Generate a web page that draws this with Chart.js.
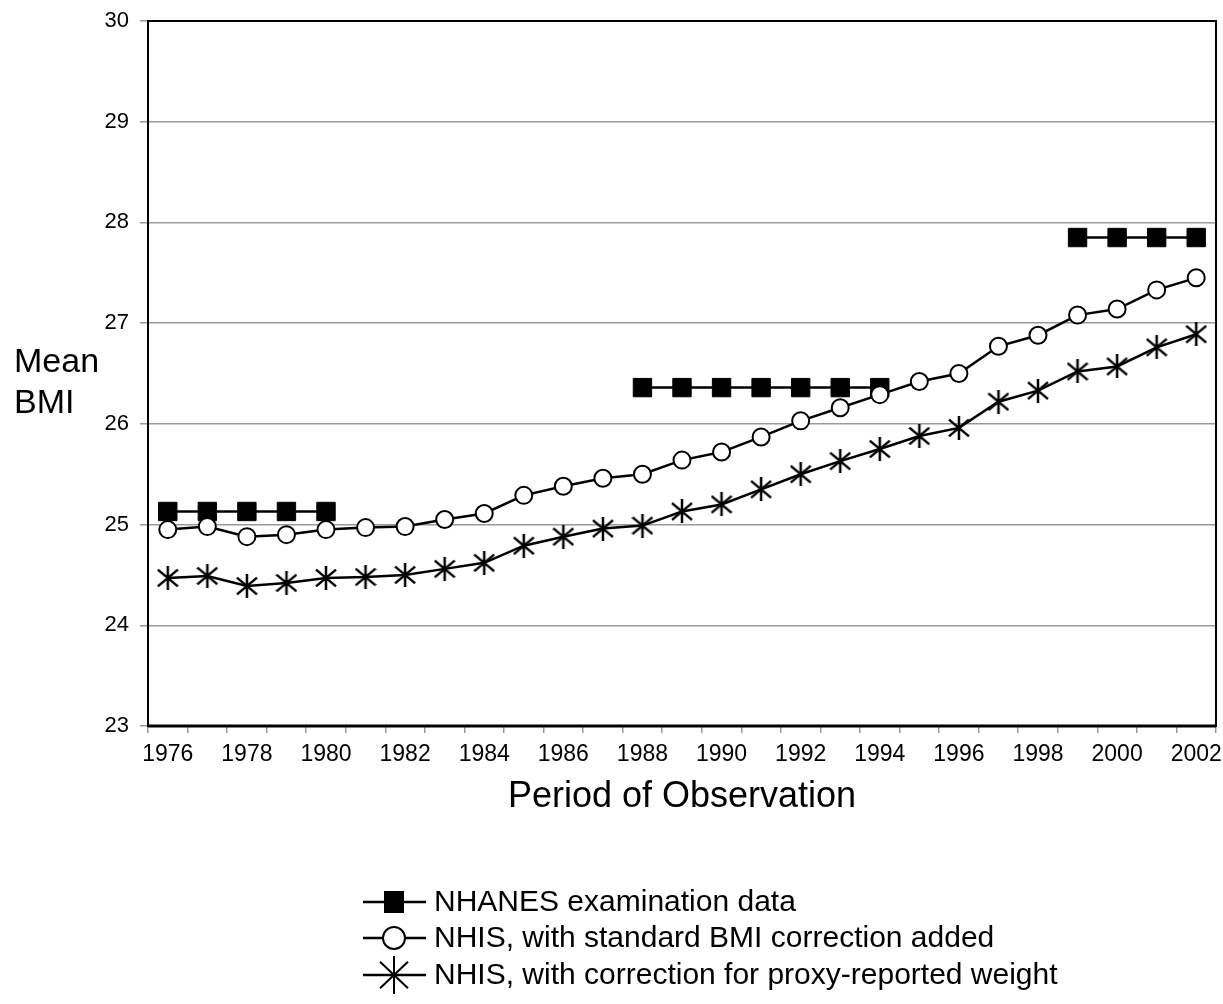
<!DOCTYPE html>
<html>
<head>
<meta charset="utf-8">
<script src="https://cdn.jsdelivr.net/npm/chart.js@4.4.1/dist/chart.umd.min.js"></script>
<style>
  html, body { margin: 0; padding: 0; background: #fff; overflow: hidden; }
  #wrap { width: 1230px; height: 1004px; position: relative; }
  canvas { display: block; }
</style>
</head>
<body>
<div id="wrap"><canvas id="bmi"></canvas></div>
<script>
// Mean BMI by year
const years = ['1976', '1977', '1978', '1979', '1980', '1981', '1982', '1983', '1984',
    '1985', '1986', '1987', '1988', '1989', '1990', '1991', '1992', '1993', '1994',
    '1995', '1996', '1997', '1998', '1999', '2000', '2001', '2002'];

const nhanes = [25.13, 25.13, 25.13, 25.13, 25.13,
    null, null, null, null, null, null, null,
    26.36, 26.36, 26.36, 26.36, 26.36, 26.36, 26.36,
    null, null, null, null,
    27.85, 27.85, 27.85, 27.85];

const nhisStandard = [24.95, 24.98, 24.88, 24.90, 24.95, 24.97, 24.98, 25.05, 25.11,
    25.29, 25.38, 25.46, 25.50, 25.64, 25.72, 25.87, 26.03, 26.16, 26.29,
    26.42, 26.50, 26.77, 26.88, 27.08, 27.14, 27.33, 27.45];

const nhisProxy = [24.47, 24.49, 24.39, 24.42, 24.47, 24.48, 24.50, 24.56, 24.62,
    24.79, 24.88, 24.96, 24.99, 25.13, 25.20, 25.35, 25.50, 25.63, 25.75,
    25.88, 25.96, 26.22, 26.33, 26.52, 26.57, 26.76, 26.89];

const seriesLabels = ['NHANES examination data',
    'NHIS, with standard BMI correction added',
    'NHIS, with correction for proxy-reported weight'];

const yMin = 23, yMax = 30, yStep = 1;

const FONT = '"Liberation Sans", Arial, sans-serif';

// excel-like asterisk marker (vertical bar + X)
function makeStar(w, h, lw) {
    const c = document.createElement('canvas');
    c.width = w; c.height = h;
    const g = c.getContext('2d');
    g.strokeStyle = '#000';
    g.lineWidth = lw;
    g.beginPath();
    g.moveTo(w / 2, 0); g.lineTo(w / 2, h);
    g.moveTo(1, h * 0.15); g.lineTo(w - 1, h * 0.85);
    g.moveTo(w - 1, h * 0.15); g.lineTo(1, h * 0.85);
    g.stroke();
    return c;
}
const star = makeStar(22, 24, 2.5);
const bigStar = makeStar(30, 38, 2);

// frame round the plot + horizontal "Mean BMI" title
const framePlugin = {
    id: 'frame',
    beforeDatasetsDraw(chart) {
        const { ctx, chartArea: a } = chart;
        ctx.save();
        ctx.strokeStyle = '#000';
        ctx.lineWidth = 2;
        ctx.strokeRect(a.left, a.top, a.right - a.left, a.bottom - a.top);
        ctx.lineWidth = 3;
        ctx.beginPath();
        ctx.moveTo(a.left, a.bottom); ctx.lineTo(a.right, a.bottom);
        ctx.stroke();
        ctx.fillStyle = '#000';
        ctx.font = '34px ' + FONT;
        ctx.textAlign = 'left';
        ctx.textBaseline = 'alphabetic';
        ctx.fillText('Mean', 14, 372);
        ctx.fillText('BMI', 14, 413);
        ctx.restore();
    }
};

// legend under the chart: short line with the marker on it
const legendPlugin = {
    id: 'bottomLegend',
    afterDraw(chart) {
        const { ctx } = chart;
        const x0 = 363, x1 = 426, xm = 394, tx = 434;
        const rows = [902, 938, 975];
        ctx.save();
        ctx.font = '30px ' + FONT;
        ctx.textBaseline = 'middle';
        ctx.fillStyle = '#000';
        rows.forEach((y, i) => {
            ctx.strokeStyle = '#000';
            ctx.lineWidth = 2.5;
            ctx.beginPath();
            ctx.moveTo(x0, y); ctx.lineTo(x1, y);
            ctx.stroke();
            if (i === 0) {
                ctx.fillStyle = '#000';
                ctx.fillRect(xm - 10, y - 11, 20, 22);
            } else if (i === 1) {
                ctx.fillStyle = '#fff';
                ctx.lineWidth = 2;
                ctx.beginPath();
                ctx.arc(xm, y, 11, 0, Math.PI * 2);
                ctx.fill();
                ctx.stroke();
            } else {
                ctx.drawImage(bigStar, xm - bigStar.width / 2, y - bigStar.height / 2);
            }
            ctx.fillStyle = '#000';
            ctx.fillText(seriesLabels[i], tx, y + 1);
        });
        ctx.restore();
    }
};

new Chart(document.getElementById('bmi'), {
    type: 'line',
    data: {
        labels: years,
        datasets: [{
            label: seriesLabels[0],
            data: nhanes,
            borderColor: '#000',
            borderWidth: 2.5,
            pointStyle: 'rect',
            pointRadius: 13,
            pointBackgroundColor: '#000',
            pointBorderColor: '#000',
            pointBorderWidth: 1,
            spanGaps: false,
            order: 2,
        }, {
            label: seriesLabels[1],
            data: nhisStandard,
            borderColor: '#000',
            borderWidth: 2.5,
            pointStyle: 'circle',
            pointRadius: 8.5,
            pointBackgroundColor: '#fff',
            pointBorderColor: '#000',
            pointBorderWidth: 2,
            order: 1,
        }, {
            label: seriesLabels[2],
            data: nhisProxy,
            borderColor: '#000',
            borderWidth: 2.5,
            pointStyle: star,
            pointRadius: 11,
            order: 3,
        }]
    },
    options: {
        responsive: true,
        maintainAspectRatio: false,
        animation: false,
        events: [],
        layout: { padding: { left: 100, top: 21, right: 7, bottom: 185 } },
        plugins: {
            legend: { display: false },
            tooltip: { enabled: false },
        },
        scales: {
            x: {
                offset: true,
                afterFit(scale) {
                    scale.height = 93;
                    scale.paddingLeft = 0;
                    scale.paddingRight = 0;
                },
                grid: {
                    offset: true,
                    drawOnChartArea: false,
                    color: '#999',
                    lineWidth: 1.5,
                    tickLength: 7,
                },
                border: { display: false },
                ticks: {
                    autoSkip: false,
                    maxRotation: 0,
                    color: '#000',
                    padding: 8,
                    font: { family: FONT, size: 23 },
                    callback(v, i) { return i % 2 === 0 ? this.getLabelForValue(v) : ''; },
                },
                title: {
                    display: true,
                    text: 'Period of Observation',
                    color: '#000',
                    padding: 0,
                    font: { family: FONT, size: 36 },
                },
            },
            y: {
                min: yMin,
                max: yMax,
                afterFit(scale) {
                    scale.width = 48;
                    scale.paddingTop = 0;
                    scale.paddingBottom = 0;
                },
                grid: { color: '#999', lineWidth: 1.5, tickLength: 8 },
                border: { display: false },
                ticks: {
                    stepSize: yStep,
                    color: '#000',
                    padding: 11,
                    font: { family: FONT, size: 22 },
                },
            },
        },
    },
    plugins: [framePlugin, legendPlugin],
});
</script>
</body>
</html>
